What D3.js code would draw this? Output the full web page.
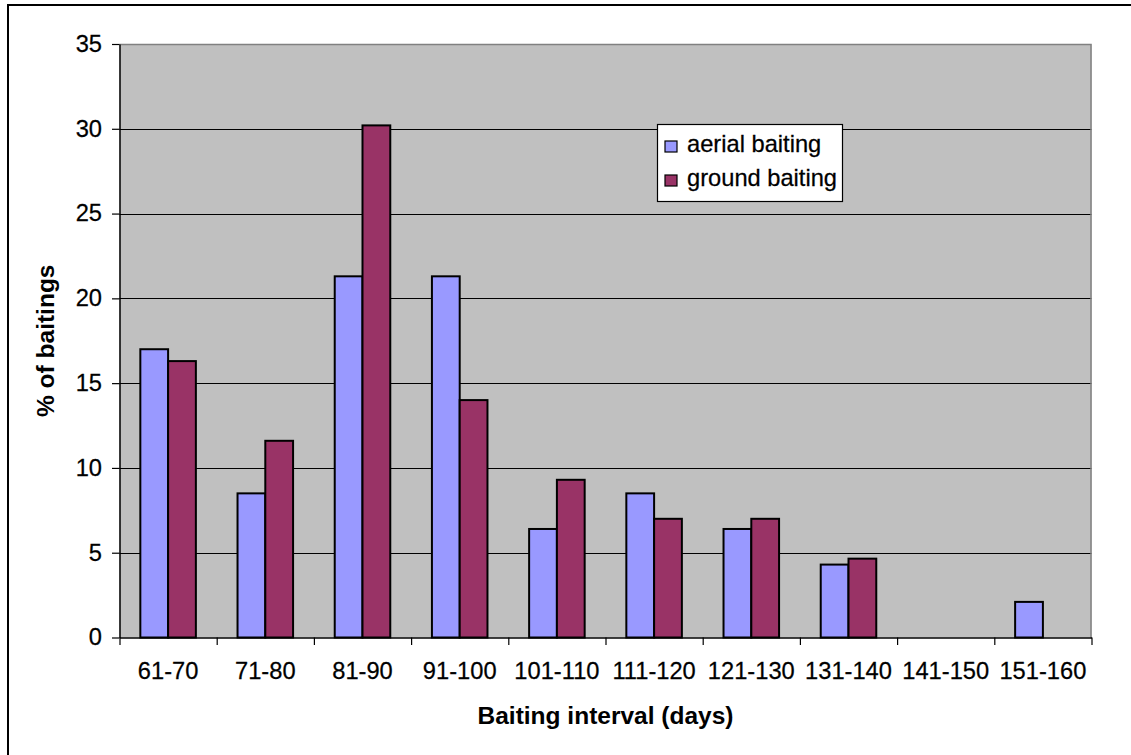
<!DOCTYPE html>
<html>
<head>
<meta charset="utf-8">
<script src="https://cdn.jsdelivr.net/npm/d3@7"></script>
<style>
  html, body { margin: 0; padding: 0; background: #fff; }
  svg { display: block; }
  text { font-family: Arial, "Liberation Sans", sans-serif; fill: #000; }
</style>
</head>
<body>
<svg id="chart" width="1131" height="755"></svg>
<script>
// Baiting interval classes (days)
const categories = ["61-70", "71-80", "81-90", "91-100", "101-110", "111-120", "121-130", "131-140", "141-150", "151-160"];
const seriesNames = ["aerial baiting", "ground baiting"];
// % of baitings per interval class
const aerialValues = [17.0, 8.5, 21.3, 21.3, 6.4, 8.5, 6.4, 4.3, 0, 2.1];
const groundValues = [16.3, 11.6, 30.2, 14.0, 9.3, 7.0, 7.0, 4.65, 0, 0];
const yTicks = [0, 5, 10, 15, 20, 25, 30, 35];

const colors = { "aerial baiting": "#9999FF", "ground baiting": "#993366" };
const labelSize = 23;
const stretch = 1.03;      // glyph proportion for tick and legend labels
const titleSize = 24.5;
const titleStretch = 1.0;

const svg = d3.select("#chart");
const plot = { left: 119.5, right: 1091.5, top: 44, bottom: 637.5 };

// outer frame
svg.append("rect")
  .attr("x", 8).attr("y", 5)
  .attr("width", 1140).attr("height", 770)
  .attr("fill", "#fff").attr("stroke", "#000").attr("stroke-width", 2);

const x0 = d3.scaleBand().domain(categories).range([plot.left, plot.right]).padding(0);
const x1 = d3.scaleBand().domain(seriesNames).range([0, x0.bandwidth()]).paddingInner(0).paddingOuter(0.75);
const y = d3.scaleLinear().domain([0, 35]).range([plot.bottom, plot.top]);

// plot background
svg.append("rect")
  .attr("x", plot.left).attr("y", plot.top)
  .attr("width", plot.right - plot.left).attr("height", plot.bottom - plot.top)
  .attr("fill", "#C0C0C0");

// gridlines
svg.append("g").selectAll("line")
  .data(yTicks.filter(v => v > 0 && v < 35))
  .join("line")
  .attr("x1", plot.left).attr("x2", plot.right)
  .attr("y1", d => Math.round(y(d)) + 0.5).attr("y2", d => Math.round(y(d)) + 0.5)
  .attr("stroke", "#000").attr("stroke-width", 1);

// top and right edges of plot area
svg.append("path")
  .attr("d", `M${plot.left},${plot.top + 0.5}H${plot.right - 0.5}V${plot.bottom}`)
  .attr("fill", "none").attr("stroke", "#808080").attr("stroke-width", 1.5);

// bars
const rows = categories.map((c, i) => ({ cat: c, values: [
  { name: "aerial baiting", v: aerialValues[i] },
  { name: "ground baiting", v: groundValues[i] }
]}));

const groups = svg.append("g").selectAll("g")
  .data(rows).join("g")
  .attr("transform", d => `translate(${x0(d.cat)},0)`);

groups.selectAll("rect")
  .data(d => d.values.filter(e => e.v > 0))
  .join("rect")
  .attr("x", d => x1(d.name))
  .attr("y", d => y(d.v))
  .attr("width", x1.bandwidth())
  .attr("height", d => y(0) - y(d.v))
  .attr("fill", d => colors[d.name])
  .attr("stroke", "#000").attr("stroke-width", 2);

// stretches a label along its own direction, keeping its anchor point
function widen(sel) {
  sel.each(function () {
    const t = d3.select(this);
    const tx = +t.attr("x") || 0;
    const ty = +t.attr("y") || 0;
    t.attr("x", 0).attr("y", 0)
      .attr("transform", `translate(${tx},${ty}) scale(${stretch},1)`);
  });
}

function labelStyle(sel) {
  sel.attr("font-size", labelSize)
    .attr("font-family", "Arial, 'Liberation Sans', sans-serif")
    .attr("fill", "#000")
    .attr("stroke", "#000").attr("stroke-width", 0.25);
}

// y axis
const yAxis = svg.append("g")
  .attr("transform", `translate(${plot.left},0)`)
  .call(d3.axisLeft(y).tickValues(yTicks).tickSize(7.5).tickPadding(10).tickSizeOuter(0));
yAxis.select(".domain").attr("stroke", "#000").attr("stroke-width", 1.5);
yAxis.selectAll(".tick line").attr("stroke", "#000").attr("stroke-width", 1.2);
yAxis.selectAll(".tick text").call(labelStyle).call(widen);

// x axis: tick marks fall on category boundaries
const xb = d3.scaleLinear().domain([0, categories.length]).range([plot.left, plot.right]);
const xAxisTicks = svg.append("g")
  .attr("transform", `translate(0,${plot.bottom})`)
  .call(d3.axisBottom(xb).tickValues(d3.range(categories.length + 1)).tickSize(7.5).tickFormat("").tickSizeOuter(0));
xAxisTicks.select(".domain").attr("stroke", "#000").attr("stroke-width", 1.5);
xAxisTicks.selectAll(".tick line").attr("stroke", "#000").attr("stroke-width", 1.2);

const xAxisLabels = svg.append("g")
  .attr("transform", `translate(0,${plot.bottom})`)
  .call(d3.axisBottom(x0).tickSize(0).tickPadding(25.5));
xAxisLabels.select(".domain").remove();
xAxisLabels.selectAll(".tick text").call(labelStyle).call(widen);

// axis titles
svg.append("text")
  .attr("transform", `translate(${(plot.left + plot.right) / 2},724) scale(${titleStretch},1)`)
  .attr("text-anchor", "middle")
  .attr("font-size", titleSize).attr("font-weight", "bold")
  .text("Baiting interval (days)");

svg.append("text")
  .attr("transform", `translate(53.5,${(plot.top + plot.bottom) / 2}) rotate(-90) scale(${titleStretch},1)`)
  .attr("text-anchor", "middle")
  .attr("font-size", titleSize).attr("font-weight", "bold")
  .text("% of baitings");

// legend
const legend = svg.append("g").attr("transform", "translate(657,124.5)");
legend.append("rect")
  .attr("x", 0.5).attr("y", 0)
  .attr("width", 185).attr("height", 77)
  .attr("fill", "#fff").attr("stroke", "#000").attr("stroke-width", 1.2);
const items = legend.selectAll("g.item")
  .data(seriesNames).join("g")
  .attr("class", "item")
  .attr("transform", (d, i) => `translate(8,${16.5 + i * 34})`);
items.append("rect")
  .attr("width", 12).attr("height", 11)
  .attr("fill", d => colors[d])
  .attr("stroke", "#000").attr("stroke-width", 1.2);
items.append("text")
  .attr("transform", `translate(22,10.5) scale(${stretch},1)`)
  .attr("font-size", labelSize)
  .attr("stroke", "#000").attr("stroke-width", 0.25)
  .text(d => d);
</script>
</body>
</html>
